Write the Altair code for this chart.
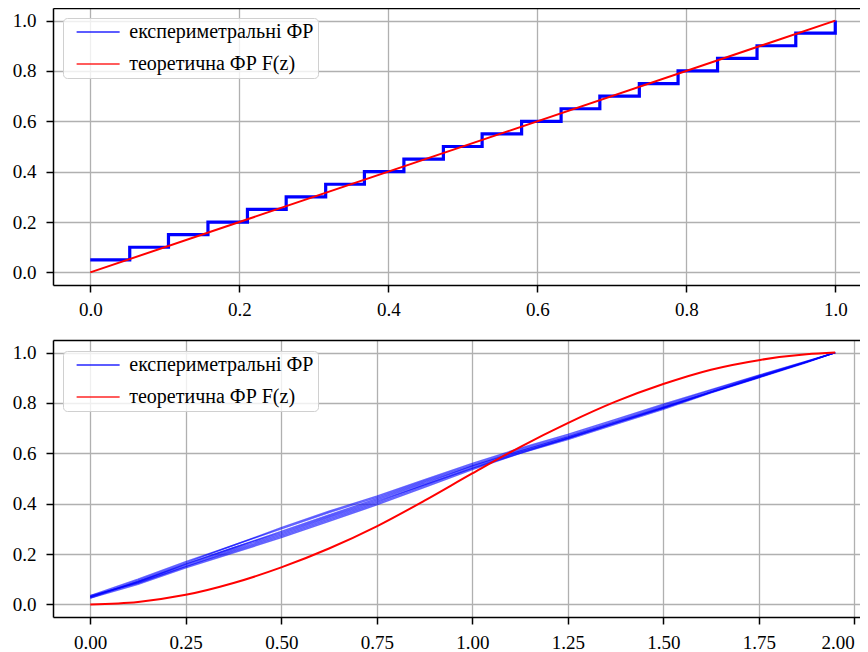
import altair as alt
import pandas as pd

EXP = "експериметральні ФР"
THEO = "теоретична ФР F(z)"
FONT = "Liberation Serif"

# ---- top panel data (step-like empirical CDF vs. theoretical) ----
top_x = [0.0, 0.053, 0.105, 0.158, 0.211, 0.263, 0.316, 0.368, 0.421, 0.474,
         0.526, 0.579, 0.632, 0.684, 0.737, 0.789, 0.842, 0.895, 0.947, 1.0]
top_y = [0.05, 0.10, 0.15, 0.20, 0.25, 0.30, 0.35, 0.40, 0.45, 0.50,
         0.55, 0.60, 0.65, 0.70, 0.75, 0.80, 0.85, 0.90, 0.95, 1.00]
top_theo_x = [0.0, 1.0]
top_theo_y = [0.0, 1.0]

# ---- bottom panel data ----
bot_x = [0.0, 0.125, 0.25, 0.375, 0.5, 0.625, 0.75, 0.875, 1.0, 1.125,
         1.25, 1.375, 1.5, 1.625, 1.75, 1.875, 1.95]
run1 = [0.025, 0.09, 0.16, 0.225, 0.29, 0.355, 0.42, 0.485, 0.55, 0.61, 0.665, 0.725, 0.785, 0.845, 0.905, 0.963, 1.0]
run2 = [0.030, 0.095, 0.165, 0.235, 0.30, 0.365, 0.425, 0.49, 0.555, 0.615, 0.67, 0.73, 0.79, 0.85, 0.908, 0.965, 1.0]
run3 = [0.035, 0.085, 0.15, 0.21, 0.27, 0.335, 0.40, 0.47, 0.54, 0.60, 0.655, 0.715, 0.775, 0.84, 0.90, 0.96, 1.0]
run4 = [0.030, 0.09, 0.155, 0.22, 0.28, 0.345, 0.41, 0.475, 0.545, 0.605, 0.66, 0.72, 0.78, 0.843, 0.903, 0.963, 1.0]
run5 = [0.025, 0.08, 0.145, 0.205, 0.265, 0.33, 0.395, 0.465, 0.535, 0.60, 0.66, 0.72, 0.78, 0.842, 0.902, 0.962, 1.0]
run6 = [0.035, 0.10, 0.17, 0.235, 0.305, 0.37, 0.43, 0.495, 0.56, 0.62, 0.675, 0.735, 0.795, 0.853, 0.91, 0.966, 1.0]
run7 = [0.030, 0.09, 0.16, 0.225, 0.285, 0.35, 0.415, 0.48, 0.55, 0.61, 0.665, 0.725, 0.783, 0.845, 0.905, 0.963, 1.0]
run8 = [0.030, 0.085, 0.15, 0.215, 0.275, 0.34, 0.405, 0.475, 0.54, 0.605, 0.66, 0.72, 0.78, 0.842, 0.902, 0.962, 1.0]
runs = [run1, run2, run3, run4, run5, run6, run7, run8]
bot_theo_y = [0.0, 0.01, 0.038, 0.085, 0.147, 0.222, 0.31, 0.412, 0.52, 0.625, 0.72,
              0.805, 0.875, 0.932, 0.97, 0.993, 1.0]

top_exp_df = pd.DataFrame({"x": top_x, "y": top_y, "series": EXP})
top_theo_df = pd.DataFrame({"x": top_theo_x, "y": top_theo_y, "series": THEO})
bot_exp_df = pd.concat(
    [pd.DataFrame({"x": bot_x, "y": r, "run": i, "series": EXP}) for i, r in enumerate(runs)],
    ignore_index=True)
bot_theo_df = pd.DataFrame({"x": bot_x, "y": bot_theo_y, "series": THEO})

W, H = 807, 277
Y_DOM = [-0.05, 1.05]
y_ticks = [0.0, 0.2, 0.4, 0.6, 0.8, 1.0]
TOP_DOM = [-0.05, 1.0332]
BOT_DOM = [-0.0975, 2.015]

color_scale = alt.Scale(domain=[EXP, THEO], range=["#0000ff", "#ff0000"])


def legend(y):
    return alt.Legend(
        title=None, orient="none", legendX=10, legendY=y,
        symbolType="M-0.07,0H7.93", symbolSize=115.6, symbolStrokeWidth=1.6,
        symbolOpacity=0.85,
        labelFont=FONT, labelFontSize=20, labelColor="black", labelLimit=500,
        labelExpr="datum.label + '\u2002\u2009'",
        labelOffset=42.25, rowPadding=12, padding=4,
        fillColor="rgba(255,255,255,0.8)", strokeColor="#d0d0d0", cornerRadius=4,
    )


def yenc():
    return alt.Y("y:Q", title=None,
                 scale=alt.Scale(domain=Y_DOM, nice=False, zero=False),
                 axis=alt.Axis(values=y_ticks, format=".1f", minExtent=45, maxExtent=45,
                               labelPadding=10))


def color_enc(y):
    return alt.Color("series:N", scale=color_scale, legend=legend(y))


def top_spine(dom):
    return alt.X("x:Q", title=None, scale=alt.Scale(domain=dom, nice=False, zero=False),
                 axis=alt.Axis(orient="top", labels=False, ticks=False, grid=False,
                               domain=True, domainColor="black", domainWidth=1.5))


# top panel
tx = alt.X("x:Q", title=None, scale=alt.Scale(domain=TOP_DOM, nice=False, zero=False),
           axis=alt.Axis(values=[0.0, 0.2, 0.4, 0.6, 0.8, 1.0], format=".1f", labelPadding=8))
top_exp = alt.Chart(top_exp_df).mark_line(interpolate="step-after", strokeWidth=3.2).encode(
    x=tx, y=yenc(), color=color_enc(10))
top_theo = alt.Chart(top_theo_df).mark_line(strokeWidth=2).encode(
    x=top_spine(TOP_DOM), y=yenc(), color=color_enc(10))
top = alt.layer(top_exp, top_theo).resolve_axis(x="independent").properties(width=W, height=H)

# bottom panel
bx = alt.X("x:Q", title=None, scale=alt.Scale(domain=BOT_DOM, nice=False, zero=False),
           axis=alt.Axis(values=[0.0, 0.25, 0.5, 0.75, 1.0, 1.25, 1.5, 1.75, 2.0], format=".2f",
                         labelPadding=9, labelFlush=10))
bot_exp = alt.Chart(bot_exp_df).mark_line(strokeWidth=1.4, opacity=0.6).encode(
    x=bx, y=yenc(), color=color_enc(11), detail="run:N")
bot_theo = alt.Chart(bot_theo_df).mark_line(strokeWidth=2, interpolate="monotone").encode(
    x=top_spine(BOT_DOM), y=yenc(), color=color_enc(11))
bot = alt.layer(bot_exp, bot_theo).resolve_axis(x="independent").properties(width=W, height=H)

chart = (
    alt.vconcat(top, bot, spacing=55, bounds="flush")
    .resolve_scale(x="independent", y="independent", color="independent")
    .resolve_legend(color="independent")
    .properties(padding=0)
    .configure_axis(
        labelFont=FONT, labelFontSize=19, labelColor="black",
        tickColor="black", tickSize=7, tickWidth=1.5,
        domainColor="black", domainWidth=1.5,
        gridColor="#b0b0b0", gridWidth=1.3, grid=True,
    )
    .configure_view(stroke=None)
)

chart.save("out.html", embed_options={"renderer": "svg", "actions": False})
